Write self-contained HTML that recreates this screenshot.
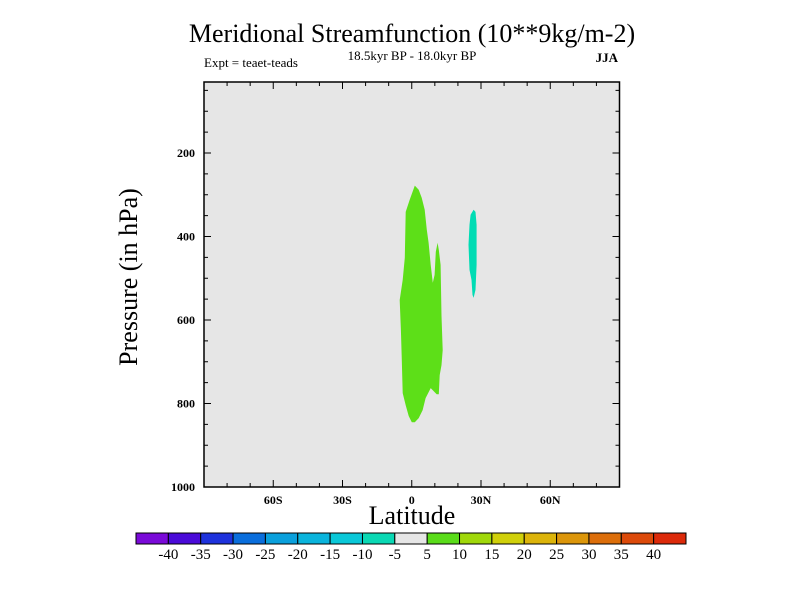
<!DOCTYPE html>
<html><head><meta charset="utf-8"><style>
html,body{margin:0;padding:0;background:#fff;}
svg{display:block;font-family:"Liberation Serif",serif;}
</style></head><body>
<svg id="chart" width="800" height="600" viewBox="0 0 800 600" xmlns="http://www.w3.org/2000/svg">
<rect width="800" height="600" fill="#fff"/>
<text x="412" y="42" font-size="26" text-anchor="middle">Meridional Streamfunction (10**9kg/m-2)</text>
<text x="412" y="60" font-size="13" text-anchor="middle">18.5kyr BP - 18.0kyr BP</text>
<text x="204" y="67" font-size="13">Expt = teaet-teads</text>
<text x="618" y="62" font-size="13" text-anchor="end" font-weight="bold">JJA</text>
<rect x="204" y="82" width="415.5" height="405" fill="#e6e6e6"/>
<g id="marks"></g>
<g id="axes"></g>
<rect x="204" y="82" width="415.5" height="405" fill="none" stroke="#000" stroke-width="1.5"/>
<text x="412" y="524" font-size="26" text-anchor="middle">Latitude</text>
<text x="0" y="0" font-size="26" text-anchor="middle" transform="translate(137,277) rotate(-90)">Pressure (in hPa)</text>
<g id="colorbar"></g>
</svg>
<script>
const latTicks=[-60,-30,0,30,60];
const latTickLabels=["60S","30S","0","30N","60N"];
const presTicks=[200,400,600,800,1000];
const presTickLabels=["200","400","600","800","1000"];
const cbLevels=["-40","-35","-30","-25","-20","-15","-10","-5","5","10","15","20","25","30","35","40"];
const cbColors=["#7a0ad8","#4a0ad8","#1e32dc","#0a6edc","#0aa0dc","#0ab4dc","#0ac8d8","#0ad8b4","#e6e6e6","#5adc1a","#a0d80a","#d0d00a","#dcb40a","#dc960a","#dc6e0a","#dc4a0a","#dc2a0a"];
const posLat=[1.3,-0.9,-2.6,-3.0,-3.9,-5.2,-4.7,-4.3,-3.9,-2.6,-1.3,0,1.3,3.0,4.7,6.0,8.2,10.8,11.7,12.1,12.9,13.4,12.9,12.5,11.7,11.2,10.4,9.9,9.1,8.2,7.3,6.5,5.6,4.3,3.0];
const posPres=[278,312,341,451,504,552,624,696,775,804,830,845,845,835,816,787,763,778,778,732,708,672,590,468,432,415,437,492,511,468,415,384,336,307,288];
const negLat=[26.8,25.5,25.0,24.6,25.0,25.9,26.3,26.8,27.6,28.1,28.1,27.6];
const negPres=[336,348,372,420,480,504,540,547,528,468,372,341];

const NS="http://www.w3.org/2000/svg";
const X0=204,X1=619.5,Y0=82,Y1=487;
function xs(lat){return X0+(lat+90)/180*(X1-X0);}
function ys(p){return 69.5+p*0.4175;}
function el(t,a,parent){const e=document.createElementNS(NS,t);for(const k in a)e.setAttribute(k,a[k]);parent.appendChild(e);return e;}
const marks=document.getElementById('marks'),axes=document.getElementById('axes'),cb=document.getElementById('colorbar');

function poly(lats,ps,fill,name){
  const pts=lats.map((l,i)=>xs(l).toFixed(1)+","+ys(ps[i]).toFixed(1)).join(" ");
  const p=el('polygon',{points:pts,fill:fill},marks);
  
  
}
poly(posLat,posPres,"#5ddf18","positive-cell-5-10");
poly(negLat,negPres,"#00dcb4","negative-cell-10-5");

// x ticks
for(let lat=-80;lat<=80;lat+=10){
  const major=lat%30===0, len=major?7:4, x=xs(lat);
  const t1=el('line',{x1:x,x2:x,y1:Y1,y2:Y1-len,stroke:'#000','stroke-width':1},axes);
  
  
  const t2=el('line',{x1:x,x2:x,y1:Y0,y2:Y0+len,stroke:'#000','stroke-width':1},axes);
  
  
}
latTicks.forEach((l,i)=>{
  const t=el('text',{x:xs(l),y:504,'font-size':12,'text-anchor':'middle','font-weight':'bold'},axes);
  t.textContent=latTickLabels[i];
  
  
});
// y ticks
for(let p=50;p<=1000;p+=50){
  const major=p%200===0, len=major?7:4, y=ys(p);
  if(y<Y0)continue;
  const t1=el('line',{x1:X0,x2:X0+len,y1:y,y2:y,stroke:'#000','stroke-width':1},axes);
  
  
  const t2=el('line',{x1:X1,x2:X1-len,y1:y,y2:y,stroke:'#000','stroke-width':1},axes);
  
  
}
presTicks.forEach((p,i)=>{
  const t=el('text',{x:195,y:ys(p)+4,'font-size':12,'text-anchor':'end','font-weight':'bold'},axes);
  t.textContent=presTickLabels[i];
  
  
});
// colorbar
const CB0=136,CB1=686,CBY=533,CBH=11,w=(CB1-CB0)/cbColors.length;
cbColors.forEach((c,i)=>{
  const r=el('rect',{x:CB0+i*w,y:CBY,width:w,height:CBH,fill:c,stroke:'#000','stroke-width':1},cb);
  
  
});
cbLevels.forEach((s,i)=>{
  const t=el('text',{x:CB0+(i+1)*w,y:559,'font-size':15,'text-anchor':'middle'},cb);
  t.textContent=s;
  
  
});
</script>
</body></html>
